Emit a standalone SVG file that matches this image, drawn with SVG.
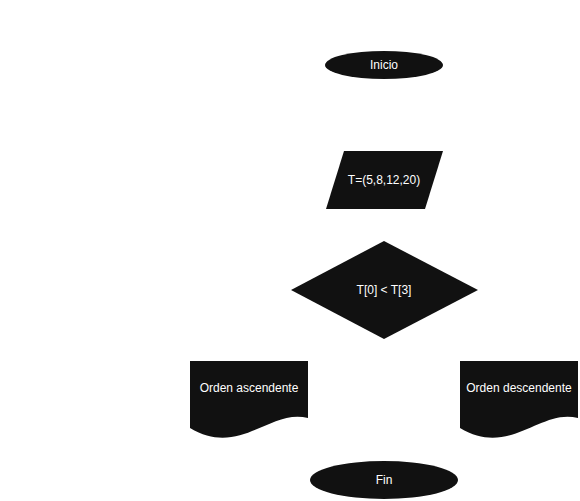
<svg xmlns="http://www.w3.org/2000/svg" width="580" height="501" viewBox="0 0 580 501">
<style>
.s{fill:#111111;stroke:none}
.t{fill:#ffffff;font-family:"Liberation Sans",Arial,sans-serif;font-size:12px;text-anchor:middle}
</style>
<rect width="580" height="501" fill="#ffffff"/>
<g id="connectors"></g>
<g id="inicio">
<ellipse class="s" cx="384" cy="65" rx="59" ry="14"/>
<text class="t" x="384" y="69">Inicio</text>
</g>
<g id="entrada">
<polygon class="s" points="344,151 443,151 425,209 326,209"/>
<text class="t" x="384" y="184">T=(5,8,12,20)</text>
</g>
<g id="decision">
<polygon class="s" points="384,241 478,290 384,339 291,290"/>
<text class="t" x="384" y="294">T[0] &lt; T[3]</text>
</g>
<g id="ascendente">
<path class="s" d="M190,361 H308 V418 C270,408 240,458 190,428 Z"/>
<text class="t" x="249" y="392">Orden ascendente</text>
</g>
<g id="descendente">
<path class="s" d="M460,361 H578 V418 C540,408 510,458 460,428 Z"/>
<text class="t" x="519" y="392">Orden descendente</text>
</g>
<g id="fin">
<ellipse class="s" cx="384" cy="480" rx="74" ry="19"/>
<text class="t" x="384" y="484">Fin</text>
</g>
</svg>
